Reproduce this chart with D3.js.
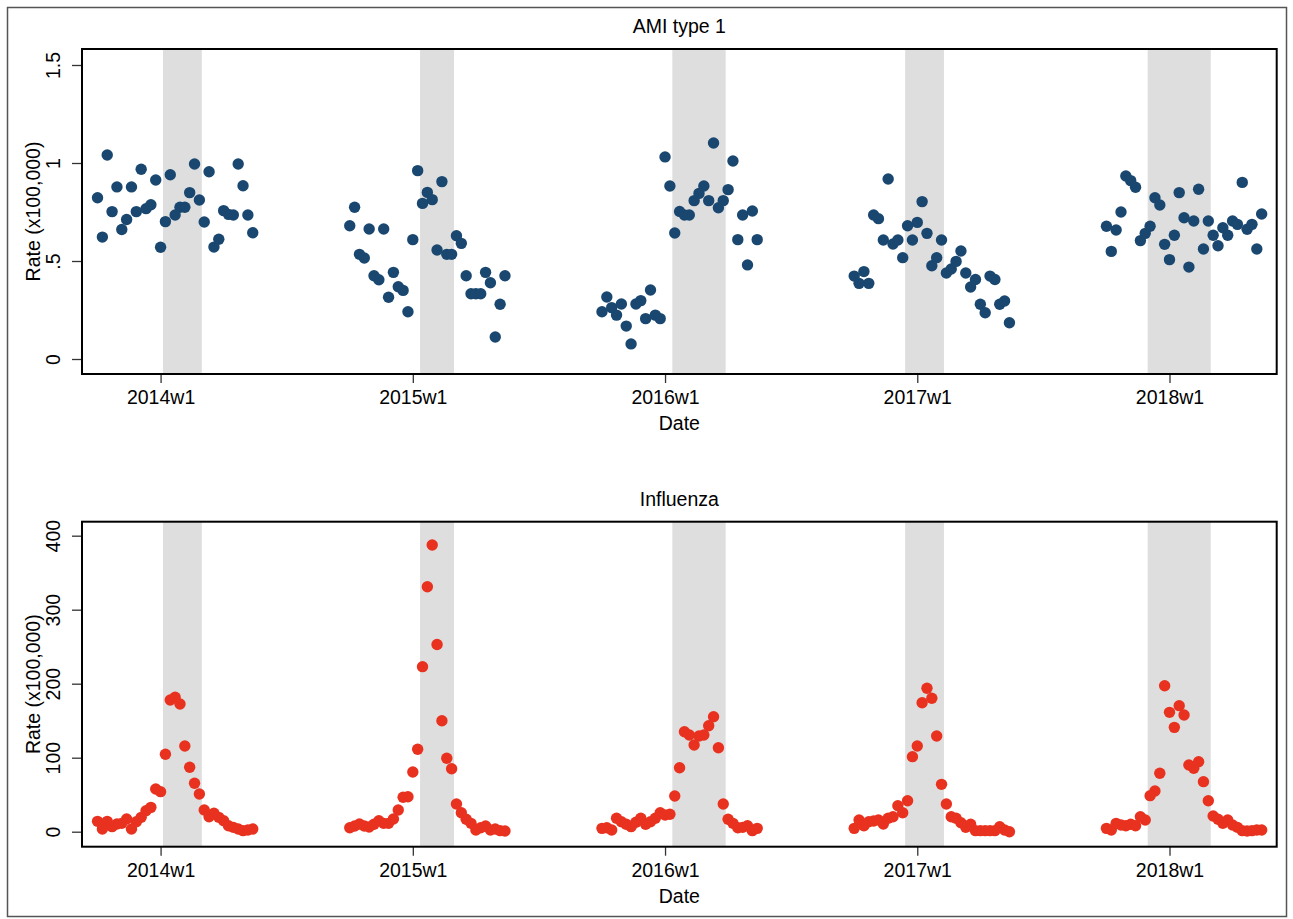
<!DOCTYPE html>
<html>
<head>
<meta charset="utf-8">
<script src="https://cdn.jsdelivr.net/npm/d3@7"></script>
<style>
  body { margin: 0; background: #fff; }
  text { font-family: "Liberation Sans", Arial, Helvetica, sans-serif; fill: #000; }
</style>
</head>
<body>
<div id="chart"></div>
<script>
// Stata weekly dates: 2014w1 = 52 * (2014 - 1960)
const season_start_weeks = [2795, 2847, 2899, 2951, 3003]; // 2013w40 ... 2017w40, 33 weeks each
const tick_weeks = [2808, 2860, 2912, 2964, 3016];
const tick_labels = ["2014w1", "2015w1", "2016w1", "2017w1", "2018w1"];
// shaded periods, [first week, last week]
const bands = [[2809, 2816], [2862, 2868], [2914, 2924], [2962, 2969], [3012, 3024]];

const ami_ticks = [0, 0.5, 1, 1.5];
const ami_tick_labels = ["0", ".5", "1", "1.5"];
const flu_ticks = [0, 100, 200, 300, 400];

const ami_rates = [
  [0.823, 0.622, 1.041, 0.752, 0.878, 0.661, 0.712, 0.878, 0.752, 0.968, 0.767, 0.787, 0.913, 0.570, 0.701, 0.940, 0.735,
   0.774, 0.774, 0.849, 0.995, 0.811, 0.699, 0.955, 0.571, 0.611, 0.757, 0.738, 0.735, 0.995, 0.884, 0.735, 0.644],
  [0.680, 0.774, 0.534, 0.515, 0.663, 0.425, 0.404, 0.663, 0.315, 0.442, 0.369, 0.350, 0.241, 0.609, 0.961, 0.794, 0.850,
   0.813, 0.556, 0.905, 0.534, 0.534, 0.629, 0.590, 0.425, 0.333, 0.333, 0.333, 0.442, 0.389, 0.112, 0.279, 0.425],
  [0.241, 0.316, 0.262, 0.224, 0.281, 0.168, 0.077, 0.281, 0.298, 0.206, 0.352, 0.224, 0.206, 1.031, 0.883, 0.643, 0.753,
   0.735, 0.735, 0.808, 0.845, 0.883, 0.808, 1.102, 0.772, 0.808, 0.864, 1.010, 0.609, 0.735, 0.480, 0.755, 0.609],
  [0.423, 0.386, 0.446, 0.386, 0.735, 0.716, 0.607, 0.918, 0.587, 0.607, 0.517, 0.680, 0.607, 0.697, 0.803, 0.641, 0.476,
   0.517, 0.607, 0.439, 0.459, 0.498, 0.551, 0.439, 0.367, 0.406, 0.279, 0.236, 0.423, 0.406, 0.279, 0.296, 0.185],
  [0.677, 0.549, 0.658, 0.750, 0.934, 0.910, 0.876, 0.604, 0.641, 0.677, 0.823, 0.786, 0.585, 0.507, 0.631, 0.849, 0.721,
   0.469, 0.704, 0.866, 0.561, 0.704, 0.631, 0.578, 0.670, 0.631, 0.704, 0.687, 0.901, 0.662, 0.687, 0.561, 0.740]
];

const flu_rates = [
  [14, 3.6, 14, 6.8, 10.4, 11.3, 17.2, 3.6, 13.5, 19.4, 28.4, 32.9, 57.7, 54.1, 104.6, 178, 181.6,
   172.6, 115.8, 87, 65.4, 51, 29.3, 20.3, 24.9, 19.4, 14.9, 8.1, 5.9, 3.6, 1.4, 2.3, 3.6],
  [5.4, 7.7, 10.4, 7.7, 6.4, 10, 14.9, 11.3, 11.3, 17.2, 29.3, 46.5, 47.3, 80.7, 111.4, 223, 331,
   387.4, 253, 150, 99.2, 85.1, 37.4, 25.7, 16.8, 11.3, 2.3, 5.4, 7.7, 2.3, 3.6, 1.4, 0.9],
  [4.5, 5.4, 2.3, 18.1, 13.5, 10, 6.8, 12.7, 18.1, 10, 13.5, 18.1, 25.7, 22.6, 23.5, 48.2, 86.5,
   135, 130.7, 117.2, 129.3, 130.7, 143.2, 155.4, 113.5, 37.4, 16.8, 11.3, 5.4, 5.9, 8.1, 1.4, 4.5],
  [4.5, 15.8, 8.1, 13.5, 14.5, 15.8, 10.4, 18.1, 20.3, 35.1, 25.7, 41.9, 101.4, 115.8, 174.3, 193.8, 180.3,
   129.3, 64, 37.4, 20.3, 18.1, 12.2, 5.9, 10, 1.4, 1.4, 1.4, 1.4, 1.4, 6.8, 2.3, 0],
  [4.5, 2.3, 11.3, 9, 8.1, 10, 8.1, 20.3, 15.8, 48.7, 55, 78.9, 197.3, 161.3, 141, 170.3, 157.7,
   90.1, 85.7, 94.6, 67.6, 41.9, 21.2, 16.8, 11.3, 15.8, 9, 5.9, 1.4, 0.9, 1.4, 2.3, 2.3]
];

const width = 1293, height = 919;
const x_left = 82, x_right = 1276.7;
const font_size = "19.5px";

const svg = d3.select("#chart").append("svg")
  .attr("width", width)
  .attr("height", height);

// outer frame
svg.append("rect")
  .attr("x", 7.5).attr("y", 7.5)
  .attr("width", 1279).attr("height", 909)
  .attr("fill", "none")
  .attr("stroke", "#555")
  .attr("stroke-width", 1.5);

const x = d3.scaleLinear()
  .domain([2791.8, 3038.1])
  .range([x_left, x_right]);

const toPoints = rates => rates.flatMap((season, s) =>
  season.map((v, i) => ({ week: season_start_weeks[s] + i, value: v })));

/**
 * one panel: title, bands, dots, axes, frame
 */
const drawPanel = p => {
  const y = d3.scaleLinear().domain(p.y_domain).range([p.bottom, p.top]);
  const g = svg.append("g");

  g.selectAll("rect.band")
    .data(bands).enter()
    .append("rect")
    .attr("class", "band")
    .attr("x", d => x(d[0] - 0.5))
    .attr("width", d => x(d[1] + 0.5) - x(d[0] - 0.5))
    .attr("y", p.top)
    .attr("height", p.bottom - p.top)
    .attr("fill", "#dedede");

  g.selectAll("circle")
    .data(toPoints(p.rates)).enter()
    .append("circle")
    .attr("cx", d => x(d.week))
    .attr("cy", d => y(d.value))
    .attr("r", 5.7)
    .attr("fill", p.color);

  // y axis, labels turned on their side
  const y_axis = g.append("g")
    .attr("transform", `translate(${x_left},0)`)
    .call(d3.axisLeft(y).tickValues(p.y_ticks).tickSize(10).tickPadding(0)
      .tickFormat((d, i) => p.y_labels[i]));
  y_axis.select(".domain").remove();
  y_axis.selectAll("line").attr("stroke", "#333").attr("stroke-width", 1.3);
  y_axis.selectAll("text")
    .attr("x", 0)
    .attr("y", 0)
    .attr("dy", "0.35em")
    .attr("transform", "translate(-29,0) rotate(-90)")
    .attr("text-anchor", "middle")
    .style("font-size", font_size)
    .style("font-family", '"Liberation Sans", Arial, sans-serif');

  // x axis
  const x_axis = g.append("g")
    .attr("transform", `translate(0,${p.bottom})`)
    .call(d3.axisBottom(x).tickValues(tick_weeks).tickSize(9).tickPadding(7)
      .tickFormat((d, i) => tick_labels[i]));
  x_axis.select(".domain").remove();
  x_axis.selectAll("line").attr("stroke", "#333").attr("stroke-width", 1.3);
  x_axis.selectAll("text")
    .style("font-size", font_size)
    .style("font-family", '"Liberation Sans", Arial, sans-serif');

  // frame
  g.append("rect")
    .attr("x", x_left).attr("y", p.top)
    .attr("width", x_right - x_left).attr("height", p.bottom - p.top)
    .attr("fill", "none")
    .attr("stroke", "#000")
    .attr("stroke-width", 2);

  g.append("text")
    .attr("x", (x_left + x_right) / 2)
    .attr("y", p.top - 16)
    .attr("text-anchor", "middle")
    .style("font-size", font_size)
    .text(p.title);

  g.append("text")
    .attr("x", (x_left + x_right) / 2)
    .attr("y", p.bottom + 56)
    .attr("text-anchor", "middle")
    .style("font-size", font_size)
    .text("Date");

  g.append("text")
    .attr("transform", `translate(33,${(p.top + p.bottom) / 2}) rotate(-90)`)
    .attr("text-anchor", "middle")
    .attr("dy", "0.35em")
    .style("font-size", font_size)
    .text("Rate (x100,000)");
};

drawPanel({
  title: "AMI type 1",
  rates: ami_rates,
  color: "#1a476f",
  top: 49, bottom: 374,
  y_domain: [-0.0765, 1.5816],
  y_ticks: ami_ticks,
  y_labels: ami_tick_labels
});

drawPanel({
  title: "Influenza",
  rates: flu_rates,
  color: "#e8321f",
  top: 521.7, bottom: 846.7,
  y_domain: [-20.27, 418.9],
  y_ticks: flu_ticks,
  y_labels: flu_ticks.map(String)
});
</script>
</body>
</html>
